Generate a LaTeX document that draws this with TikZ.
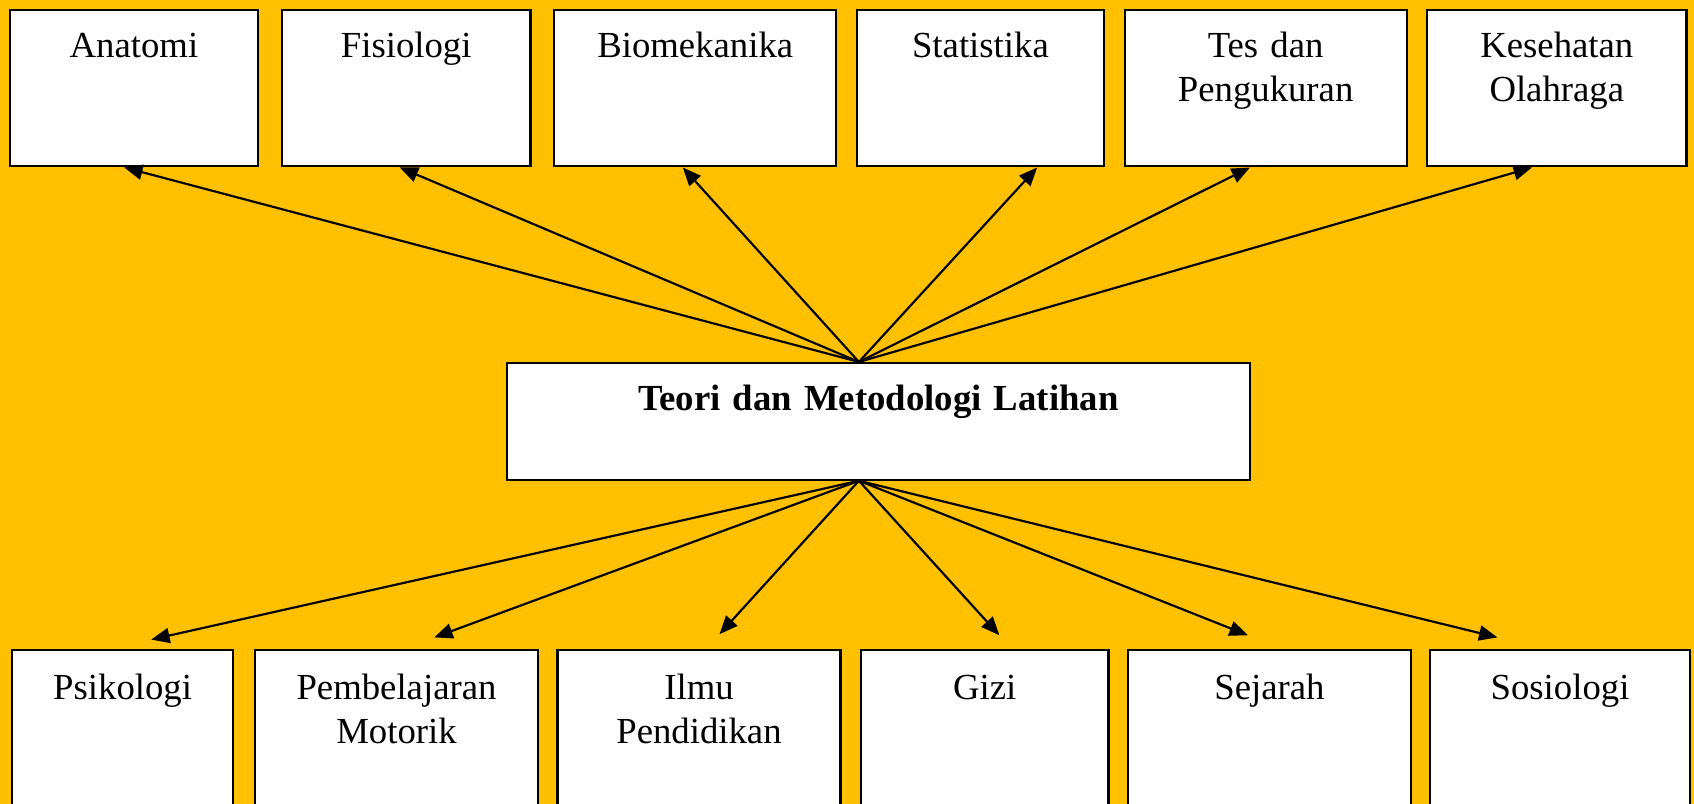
\documentclass[tikz,border=0pt]{standalone}
\usepackage{fontspec}
\setmainfont{Liberation Serif}
\usepackage{xcolor}
\usetikzlibrary{arrows.meta,calc}

\definecolor{gold}{RGB}{255,192,0}

\begin{document}
\begin{tikzpicture}[x=0.5pt, y=-0.5pt,
    every node/.style={font=\fontsize{17}{20.5}\selectfont},
    field/.style={draw=black, fill=white, line width=1pt, inner sep=0pt,
        text width=#1, align=center, anchor=north west,
        text height=22pt, text depth=50.5pt},
    lower/.style={text height=22.5pt, text depth=60pt},
    link/.style={line width=1pt, -{Triangle[length=8.5pt,width=7pt]}}]
    \useasboundingbox (0,0) rectangle (1568,744);
    \clip (0,0) rectangle (1568,744);

    % Background
    \fill[gold] (0,0) rectangle (1568,744);

    % Top row
    \node[field=115pt] (anat) at (8,8) {Anatomi};
    \node[field=115pt] (fis) at (260,8) {Fisiologi};
    \node[field=130.5pt] (bio) at (512,8) {Biomekanika};
    \node[field=114.5pt] (stat) at (792,8) {Statistika};
    \node[field=130.5pt] (tes) at (1040,8) {Tes dan\\Pengukuran};
    \node[field=120pt] (kes) at (1320,8) {Kesehatan\\Olahraga};

    % Centre
    \node[field=344pt, text height=22pt, text depth=32pt,
        font=\fontsize{17}{20}\selectfont\bfseries] (teori) at (468,335)
        {Teori dan Metodologi Latihan};
    \coordinate (hubtop) at (teori.north -| 795,0);
    \coordinate (hubbot) at (teori.south -| 795,0);

    % Bottom row
    \node[field=102.5pt, lower] (psi) at (10,601) {Psikologi};
    \node[field=131pt, lower] (motor) at (235,601) {Pembelajaran\\Motorik};
    \node[field=131pt, lower] (pend) at (515,601) {Ilmu\\Pendidikan};
    \node[field=114.5pt, lower] (gizi) at (796,601) {Gizi};
    \node[field=131pt, lower] (sej) at (1043,601) {Sejarah};
    \node[field=120pt, lower] (sos) at (1323,601) {Sosiologi};

    % Arrows up
    \foreach \n/\x in {anat/115, fis/370, bio/632, stat/960, tes/1157, kes/1418}
        \draw[link] (hubtop) -- (\n.south -| \x,0);

    % Arrows down
    \foreach \n/\x/\g in {psi/140/9, motor/402/11, pend/666/14, gizi/925/13, sej/1155/13, sos/1386/11}
        \draw[link] (hubbot) -- ($(\n.north -| \x,0)+(0,-\g)$);
\end{tikzpicture}
\end{document}
